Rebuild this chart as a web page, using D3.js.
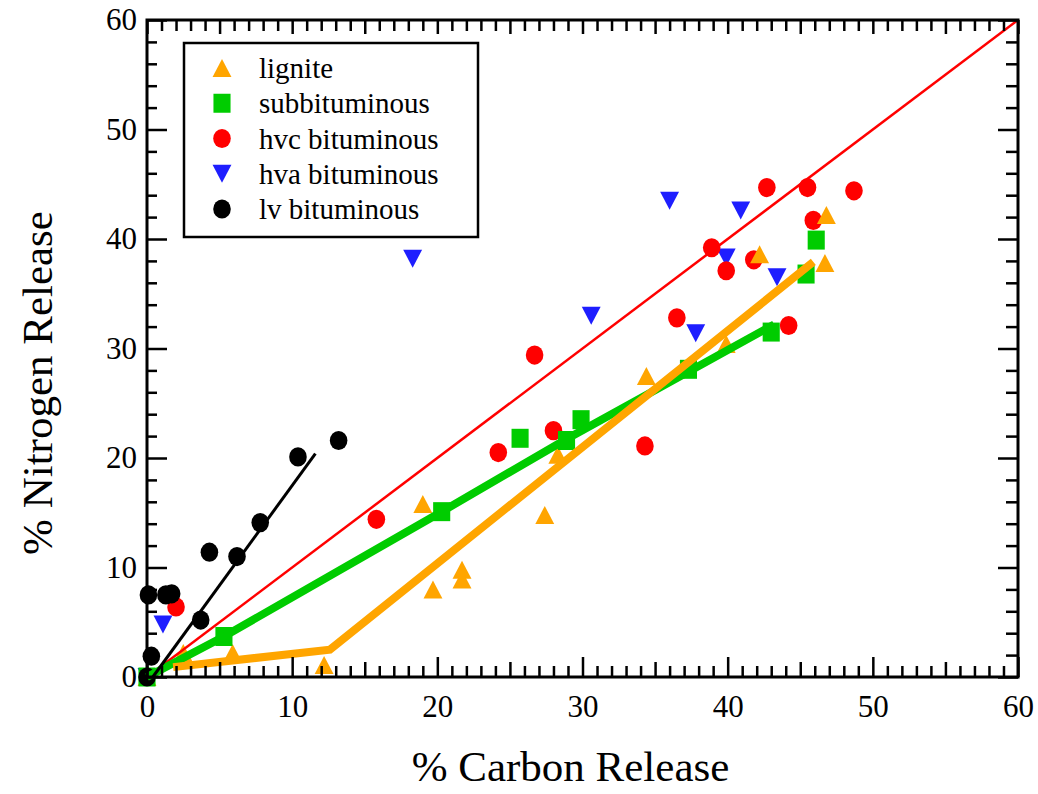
<!DOCTYPE html>
<html>
<head>
<meta charset="utf-8">
<script src="https://cdn.jsdelivr.net/npm/d3@7"></script>
<style>
  body { margin: 0; background: #fff; }
</style>
</head>
<body>
<svg id="chart" width="1038" height="794"></svg>
<script>
// [carbon release %, nitrogen release %]
const lignite = [[0,0],[2.5,2.2],[5.9,2.2],[12.2,1.1],[19,15.8],[19.7,8.0],[21.7,9.8],[21.7,8.9],
  [27.4,14.8],[28.3,20.3],[34.4,27.5],[39.9,30.4],[42.2,38.6],[46.8,42.2],[46.7,37.8]];
const subbit = [[0,0],[5.3,3.7],[20.3,15.1],[25.7,21.8],[28.9,21.6],[29.9,23.5],[37.3,28.1],
  [43,31.5],[45.4,36.8],[46.1,39.9]];
const hvc = [[2.0,6.4],[15.8,14.4],[24.2,20.5],[26.7,29.4],[28,22.5],[34.3,21.1],[36.5,32.8],
  [38.9,39.2],[39.9,37.1],[41.8,38.1],[42.7,44.7],[44.2,32.1],[45.5,44.7],[45.9,41.7],[48.7,44.4]];
const hva = [[0,0],[1.1,4.8],[18.3,38.2],[30.6,33],[36,43.5],[37.8,31.4],[39.9,38.3],[40.9,42.6],[43.4,36.5]];
const lvBit = [[0,0],[0.1,7.5],[0.3,1.9],[1.3,7.5],[1.7,7.6],[3.7,5.2],[4.3,11.4],[6.2,11],
  [7.8,14.1],[10.4,20.1],[13.2,21.6]];

// fitted lines
const parityLine = [[0,0],[60,60]];
const subbitFit = [[0,0],[5.3,3.7],[20.3,15.1],[29,21.8],[43.2,32.2]];
const ligniteFit = [[1.8,0.9],[12.6,2.5],[45.9,37.9]];
const lvFit = [[0.4,0],[11.6,20.4]];

const legendLabels = ["lignite", "subbituminous", "hvc bituminous", "hva bituminous", "lv bituminous"];
const xTicks = [0,10,20,30,40,50,60];
const yTicks = [0,10,20,30,40,50,60];

const svg = d3.select("#chart");
const margin = {left: 147, right: 1018, top: 20, bottom: 677};

// use the first serif face that is really installed
function pickFont(cands) {
  const probe = svg.append("text").attr("font-size", 40).text("% Carbon Release mg");
  probe.style("font-family", "monospace");
  const base = probe.node().getComputedTextLength();
  for (const c of cands) {
    probe.style("font-family", `"${c}", monospace`);
    if (Math.abs(probe.node().getComputedTextLength() - base) > 0.5) {
      probe.remove();
      return `"${c}", serif`;
    }
  }
  probe.remove();
  return "serif";
}
const FONT = pickFont(["Liberation Serif", "Times New Roman", "Tinos", "Nimbus Roman", "FreeSerif",
  "DejaVu Serif", "Noto Serif", "Times"]);

const x = d3.scaleLinear().domain([0,60]).range([margin.left, margin.right]);
const y = d3.scaleLinear().domain([0,60]).range([margin.bottom, margin.top]);

const colors = {
  lignite: "#ffa500",
  subbit: "#00cc00",
  hvc: "#ff0000",
  hva: "#1e1eff",
  lv: "#000000"
};

// marker shapes
function triUp(s) { return `M0,${-s}L${s*1.05},${s}L${-s*1.05},${s}Z`; }
function triDown(s) { return `M0,${s}L${s*1.05},${-s}L${-s*1.05},${-s}Z`; }
function square(s) { return `M${-s*0.9},${-s}H${s*0.9}V${s}H${-s*0.9}Z`; }

function drawMarkers(data, kind, color) {
  const g = svg.append("g");
  if (kind === "circle") {
    g.selectAll("ellipse").data(data).join("ellipse")
      .attr("cx", d => x(d[0])).attr("cy", d => y(d[1]))
      .attr("rx", 8.8).attr("ry", 9.6)
      .attr("fill", color);
  } else {
    const shape = kind === "up" ? triUp(9) : kind === "down" ? triDown(9) : square(9.5);
    g.selectAll("path").data(data).join("path")
      .attr("transform", d => `translate(${x(d[0])},${y(d[1])})`)
      .attr("d", shape)
      .attr("fill", color);
  }
}

drawMarkers(hva, "down", colors.hva);
drawMarkers(hvc, "circle", colors.hvc);
drawMarkers(lignite, "up", colors.lignite);
drawMarkers(subbit, "square", colors.subbit);
drawMarkers(lvBit, "circle", colors.lv);

const lineDrawer = d3.line().x(d => x(d[0])).y(d => y(d[1]));

function drawLine(data, color, width) {
  svg.append("path")
    .datum(data)
    .attr("fill", "none")
    .attr("stroke", color)
    .attr("stroke-width", width)
    .attr("stroke-linejoin", "miter")
    .attr("d", lineDrawer);
}

drawLine(parityLine, colors.hvc, 2.5);
drawLine(subbitFit, colors.subbit, 8);
drawLine(ligniteFit, colors.lignite, 8);
drawLine(lvFit, colors.lv, 3);

// axes, ticks pointing inward
const minorX = d3.range(0, 61, 1).filter(v => v % 5 !== 0);
const midX = d3.range(5, 60, 10);
const minorY = d3.range(0, 61, 2).filter(v => v % 10 !== 0);

function addAxis(axis, transform) {
  const g = svg.append("g").attr("transform", transform).call(axis);
  g.select(".domain").remove();
  g.selectAll(".tick line").attr("stroke", "#000").attr("stroke-width", 2.5);
  g.selectAll("text")
    .style("font-family", FONT)
    .attr("font-size", 31).attr("fill", "#000");
  return g;
}

const b = `translate(0,${margin.bottom})`, t = `translate(0,${margin.top})`;
addAxis(d3.axisBottom(x).tickValues(xTicks).tickSize(-20).tickPadding(18).tickFormat(d3.format("d")), b);
addAxis(d3.axisBottom(x).tickValues(midX).tickSize(-15).tickFormat(""), b);
addAxis(d3.axisBottom(x).tickValues(minorX).tickSize(-11).tickFormat(""), b);
addAxis(d3.axisTop(x).tickValues(xTicks).tickSize(-14).tickFormat(""), t);
addAxis(d3.axisTop(x).tickValues(midX).tickSize(-14).tickFormat(""), t);
addAxis(d3.axisTop(x).tickValues(minorX).tickSize(-11).tickFormat(""), t);

const l = `translate(${margin.left},0)`, r = `translate(${margin.right},0)`;
addAxis(d3.axisLeft(y).tickValues(yTicks).tickSize(-20).tickPadding(10).tickFormat(d3.format("d")), l);
addAxis(d3.axisLeft(y).tickValues(minorY).tickSize(-10).tickFormat(""), l);
addAxis(d3.axisRight(y).tickValues(yTicks).tickSize(-20).tickFormat(""), r);
addAxis(d3.axisRight(y).tickValues(minorY).tickSize(-12).tickFormat(""), r);

svg.append("rect")
  .attr("x", margin.left).attr("y", margin.top)
  .attr("width", margin.right - margin.left).attr("height", margin.bottom - margin.top)
  .attr("fill", "none").attr("stroke", "#000").attr("stroke-width", 3);

// axis titles
svg.append("text")
  .attr("x", (margin.left + margin.right) / 2 - 12).attr("y", 781)
  .attr("text-anchor", "middle")
  .style("font-family", FONT)
  .attr("font-size", 43)
  .text("% Carbon Release");

svg.append("text")
  .attr("transform", `translate(52,383) rotate(-90)`)
  .attr("text-anchor", "middle")
  .style("font-family", FONT)
  .attr("font-size", 43)
  .text("% Nitrogen Release");

// legend
const legend = svg.append("g");
legend.append("rect")
  .attr("x", 184).attr("y", 43).attr("width", 294).attr("height", 194)
  .attr("fill", "#fff").attr("stroke", "#000").attr("stroke-width", 2.5);

const legendKinds = [["up", colors.lignite], ["square", colors.subbit], ["circle", colors.hvc],
  ["down", colors.hva], ["circle", colors.lv]];
const rowY = d3.scalePoint().domain(legendLabels).range([68, 209]);

legendLabels.forEach((label, i) => {
  const [kind, color] = legendKinds[i];
  const cy = rowY(label);
  if (kind === "circle") {
    legend.append("ellipse").attr("cx", 222).attr("cy", cy).attr("rx", 8.8).attr("ry", 9.6).attr("fill", color);
  } else {
    const shape = kind === "up" ? triUp(9) : kind === "down" ? triDown(9) : square(9.5);
    legend.append("path").attr("transform", `translate(222,${cy})`).attr("d", shape).attr("fill", color);
  }
  legend.append("text")
    .attr("x", 259).attr("y", cy + 10)
    .style("font-family", FONT)
    .attr("font-size", 29)
    .text(label);
});
</script>
</body>
</html>
